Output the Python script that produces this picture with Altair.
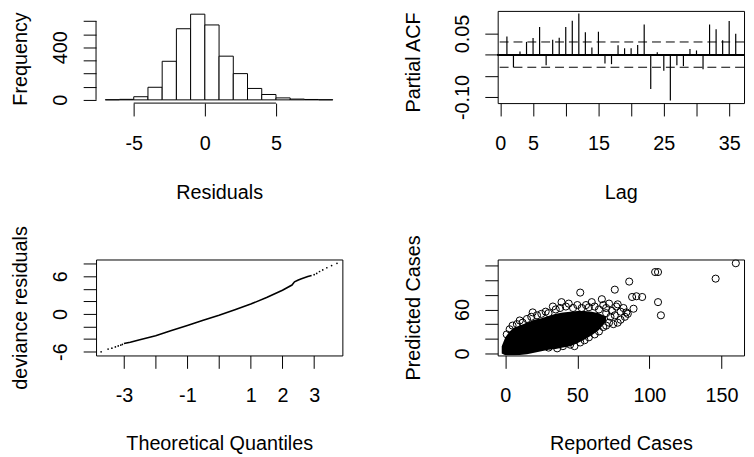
import altair as alt
import pandas as pd

FONT = "Liberation Sans"
FS = 20

# ---------------- data ----------------
# Panel 1: histogram of residuals
hist_bin_start = [-7, -6, -5, -4, -3, -2, -1, 0, 1, 2, 3, 4, 5, 6, 7, 8]
hist_bin_end = [-6, -5, -4, -3, -2, -1, 0, 1, 2, 3, 4, 5, 6, 7, 8, 9]
hist_counts = [1, 4, 24, 96, 294, 542, 653, 571, 333, 200, 87, 41, 15, 6, 3, 1]
hist_x_ticks = [-5, 0, 5]
hist_x_labels = ["-5", "0", "5"]
hist_y_ticks = [0, 100, 200, 300, 400, 500, 600]
hist_y_labels = ["0", "", "", "", "400", "", ""]
hist_x_domain = [-7.65, 9.67]
hist_y_domain = [-24.6, 678]

# Panel 2: partial ACF
pacf_lag = list(range(1, 37))
pacf_value = [0.043, -0.030, 0.0075, 0.030, 0.039, 0.065, -0.025, 0.035, 0.040, 0.065,
              0.080, 0.097, 0.053, 0.0165, 0.054, -0.021, -0.0225, 0.022, 0.015, 0.015,
              0.0225, 0.071, -0.081, 0.0053, -0.038, -0.108, -0.025, -0.027, 0.0135, 0.0098,
              -0.0345, 0.071, 0.060, 0.034, 0.079, 0.049]
pacf_ci = [0.0298, -0.0298]
pacf_x_ticks = [0, 5, 10, 15, 20, 25, 30, 35]
pacf_x_labels = ["0", "5", "", "15", "", "25", "", "35"]
pacf_y_ticks = [-0.10, -0.05, 0.0, 0.05]
pacf_y_labels = ["-0.10", "", "", "0.05"]
pacf_x_domain = [-0.41, 37.27]
pacf_y_domain = [-0.1143, 0.1031]

# Panel 3: normal QQ plot of deviance residuals
qq_curve_theo = [-3.0, -2.8, -2.5, -2.0, -1.5, -1.0, -0.5, 0.0, 0.5, 1.0, 1.5, 2.0, 2.3, 2.38,
                 2.5, 2.6, 2.8, 2.92]
qq_curve_sample = [-4.72, -4.5, -4.1, -3.46, -2.65, -1.84, -1.0, -0.2, 0.68, 1.57, 2.6, 3.78,
                   4.6, 5.1, 5.4, 5.6, 5.95, 6.1]
qq_tail_theo = [-3.72, -3.5, -3.38, -3.27, -3.18, -3.1, -3.05, 3.0, 3.08, 3.17, 3.27, 3.4, 3.55, 3.72]
qq_tail_sample = [-6.03, -5.6, -5.45, -5.25, -5.1, -4.95, -4.85, 6.24, 6.45, 6.75, 7.0, 7.35, 7.7, 8.06]
qq_x_ticks = [-3, -2, -1, 0, 1, 2, 3]
qq_x_labels = ["-3", "", "-1", "", "1", "2", "3"]
qq_y_ticks = [-6, -4, -2, 0, 2, 4, 6, 8]
qq_y_labels = ["-6", "", "", "0", "", "", "6", ""]
qq_x_domain = [-3.88, 3.89]
qq_y_domain = [-6.61, 8.66]

# Panel 4: predicted vs reported cases
mass_reported = [-2.5, 0, 3, 6, 10, 15, 20, 25, 30, 35, 40, 45, 50, 55, 60, 65, 70]
mass_upper = [10, 22, 30, 35, 38, 42, 46, 48, 51, 54, 56, 57, 58, 58, 57, 55, 50]
mass_lower = [0, -2.5, -2.5, -2.5, -2, -1, 1, 3, 5, 6, 8, 10, 14, 19, 25, 32, 44]
pts_reported = [1, 3, 5, 8, 10, 12, 15, 18, 19, 22, 25, 28, 30, 33, 35, 38, 39, 42, 44, 47,
                50, 52, 53, 56, 58, 60, 62, 65, 67, 68, 70, 72, 74, 76, 77, 78, 80, 82, 84, 86,
                88, 89, 91, 95, 104, 106, 106, 108, 146, 160,
                30, 36, 40, 45, 48, 52, 55, 58, 62, 65, 68, 70, 72, 75, 78, 80, 83, 85, 66, 62,
                58, 73, 76, 70]
pts_predicted = [26, 33, 38, 40, 45, 42, 47, 50, 56, 52, 54, 57, 55, 64, 60, 62, 70, 64, 68, 62,
                 66, 83, 62, 66, 63, 70, 64, 60, 74, 66, 62, 68, 58, 87, 64, 67, 57, 62, 56, 98,
                 77, 61, 78, 77, 111, 111, 70, 52, 102, 123,
                 8, 7, 10, 12, 10, 15, 18, 22, 26, 30, 36, 38, 42, 40, 42, 46, 50, 54, 45, 40,
                 35, 50, 52, 55]
sc_x_ticks = [0, 50, 100, 150]
sc_x_labels = ["0", "50", "100", "150"]
sc_y_ticks = [0, 20, 40, 60, 80, 100, 120]
sc_y_labels = ["0", "", "", "60", "", "", ""]
sc_x_domain = [-5.3, 165.7]
sc_y_domain = [-2.7, 128.1]

# ---------------- layout sizes ----------------
W_L, W_R = 249, 249
H_T, H_B = 93.2, 97


def lbl_expr(ticks, labels):
    expr = "''"
    for t, l in zip(ticks, labels):
        if l != "":
            expr = f"(abs(datum.value - ({t})) < 1e-9) ? '{l}' : ({expr})"
    return expr


common = dict(domain=False, grid=False, ticks=True, tickSize=13, tickWidth=1, tickColor="black",
              labelFont=FONT, labelFontSize=FS, labelColor="black", labelOverlap=False,
              labelFlush=False, labelBound=False, titleFont=FONT, titleFontSize=FS,
              titleFontWeight="normal", titleColor="black")


def bottom_axis(ticks, labels, title, w, title_y):
    return alt.Axis(orient="bottom", values=ticks, labelExpr=lbl_expr(ticks, labels), title=title,
                    labelPadding=18, labelAngle=0, labelAlign="center", labelBaseline="top",
                    titleX=w / 2, titleY=title_y, titleAlign="center", titleBaseline="alphabetic",
                    titleAngle=0, **common)


def left_axis(ticks, labels, title, title_x, title_y):
    return alt.Axis(orient="left", values=ticks, labelExpr=lbl_expr(ticks, labels), title=title,
                    labelPadding=23, labelAngle=270, labelAlign="center", labelBaseline="middle",
                    titleAngle=270, titleAlign="center", titleBaseline="alphabetic",
                    titleX=title_x, titleY=title_y, **common)


def sc(domain):
    return alt.Scale(domain=domain, nice=False, zero=False)


# ---------------- panel 1: histogram ----------------
ax1x = bottom_axis(hist_x_ticks, hist_x_labels, "Residuals", W_L, 96)
ax1y = left_axis(hist_y_ticks, hist_y_labels, "Frequency", -70, H_T / 2 + 1.5)
hist_df = pd.DataFrame({"start": hist_bin_start, "end": hist_bin_end, "count": hist_counts})
bars = alt.Chart(hist_df).mark_rect(fill="white", stroke="black", strokeWidth=1).encode(
    x=alt.X("start:Q", scale=sc(hist_x_domain), axis=ax1x),
    x2="end:Q",
    y=alt.Y("count:Q", scale=sc(hist_y_domain), axis=ax1y),
    y2=alt.Y2Datum(0),
)
hx_line = alt.Chart(pd.DataFrame({"a": [hist_x_ticks[0]], "b": [hist_x_ticks[-1]]})).mark_rule(
    color="black", strokeWidth=1).encode(
    x=alt.X("a:Q", scale=sc(hist_x_domain), axis=ax1x), x2="b:Q",
    y=alt.YDatum(hist_y_domain[0], scale=sc(hist_y_domain), axis=ax1y))
hy_line = alt.Chart(pd.DataFrame({"a": [hist_y_ticks[0]], "b": [hist_y_ticks[-1]]})).mark_rule(
    color="black", strokeWidth=1).encode(
    y=alt.Y("a:Q", scale=sc(hist_y_domain), axis=ax1y), y2="b:Q",
    x=alt.XDatum(hist_x_domain[0], scale=sc(hist_x_domain), axis=ax1x))
p1 = alt.layer(bars, hx_line, hy_line).properties(
    width=W_L, height=H_T, view=alt.ViewBackground(stroke="transparent"))

# ---------------- panel 2: PACF ----------------
ax2x = bottom_axis(pacf_x_ticks, pacf_x_labels, "Lag", W_R, 96)
ax2y = left_axis(pacf_y_ticks, pacf_y_labels, "Partial ACF", -79, H_T / 2 + 5)
pacf_df = pd.DataFrame({"lag": pacf_lag, "pacf": pacf_value})
pacf_bars = alt.Chart(pacf_df).mark_rule(color="black", strokeWidth=1.2).encode(
    x=alt.X("lag:Q", scale=sc(pacf_x_domain), axis=ax2x),
    y=alt.Y("pacf:Q", scale=sc(pacf_y_domain), axis=ax2y),
    y2=alt.Y2Datum(0),
)
zero_line = alt.Chart(pacf_df).mark_rule(color="black", strokeWidth=1).encode(
    y=alt.YDatum(0, scale=sc(pacf_y_domain), axis=ax2y))
ci_lines = alt.Chart(pd.DataFrame({"ci": pacf_ci})).mark_rule(
    color="black", strokeWidth=1, strokeDash=[9, 5]).encode(
    y=alt.Y("ci:Q", scale=sc(pacf_y_domain), axis=ax2y))
p2 = alt.layer(pacf_bars, zero_line, ci_lines).properties(width=W_R, height=H_T)

# ---------------- panel 3: QQ ----------------
ax3x = bottom_axis(qq_x_ticks, qq_x_labels, "Theoretical Quantiles", W_L, 95.5)
ax3y = left_axis(qq_y_ticks, qq_y_labels, "deviance residuals", -70, H_B / 2)
qq_curve_df = pd.DataFrame({"t": qq_curve_theo, "s": qq_curve_sample})
qq_tail_df = pd.DataFrame({"t": qq_tail_theo, "s": qq_tail_sample})
qq_line = alt.Chart(qq_curve_df).mark_line(color="black", strokeWidth=1.6, clip=True).encode(
    x=alt.X("t:Q", scale=sc(qq_x_domain), axis=ax3x),
    y=alt.Y("s:Q", scale=sc(qq_y_domain), axis=ax3y),
    order="t:Q",
)
qq_dots = alt.Chart(qq_tail_df).mark_circle(color="black", size=3, opacity=1, clip=True).encode(
    x=alt.X("t:Q", scale=sc(qq_x_domain), axis=ax3x),
    y=alt.Y("s:Q", scale=sc(qq_y_domain), axis=ax3y),
)
p3 = alt.layer(qq_line, qq_dots).properties(width=W_L, height=H_B)

# ---------------- panel 4: scatter ----------------
ax4x = bottom_axis(sc_x_ticks, sc_x_labels, "Reported Cases", W_R, 95.5)
ax4y = left_axis(sc_y_ticks, sc_y_labels, "Predicted Cases", -79, H_B / 2)
mass_df = pd.DataFrame({"r": mass_reported, "hi": mass_upper, "lo": mass_lower})
pts_df = pd.DataFrame({"r": pts_reported, "p": pts_predicted})
mass = alt.Chart(mass_df).mark_area(color="black", opacity=1, clip=True).encode(
    x=alt.X("r:Q", scale=sc(sc_x_domain), axis=ax4x),
    y=alt.Y("hi:Q", scale=sc(sc_y_domain), axis=ax4y),
    y2="lo:Q",
)
pts = alt.Chart(pts_df).mark_point(shape="circle", filled=False, stroke="black", strokeWidth=1,
                                   size=52, opacity=1, clip=True).encode(
    x=alt.X("r:Q", scale=sc(sc_x_domain), axis=ax4x),
    y=alt.Y("p:Q", scale=sc(sc_y_domain), axis=ax4y),
)
p4 = alt.layer(mass, pts).properties(width=W_R, height=H_B)

chart = alt.concat(
    p1, p2, p3, p4, columns=2, spacing={"row": 157.3, "column": 157},
    bounds="flush", align="each",
).properties(
    autosize=alt.AutoSizeParams(type="none"),
    padding={"left": 89, "top": 0.5, "right": 657, "bottom": 447.5},
    background="white",
).configure_view(stroke="black", strokeWidth=1)

chart.save("out.html", embed_options={"renderer": "svg", "actions": False})
